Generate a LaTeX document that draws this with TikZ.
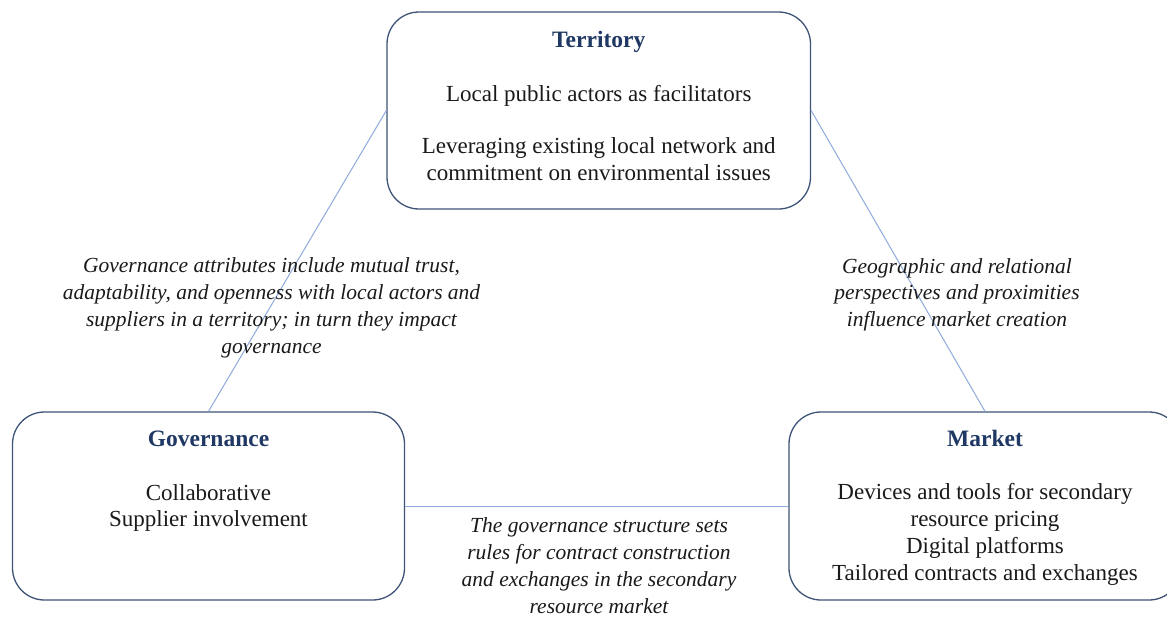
\documentclass[tikz,border=0pt]{standalone}
\usepackage{fontspec}
\setmainfont{Liberation Serif}
\definecolor{navy}{HTML}{1F3864}
\definecolor{boxline}{HTML}{3E5377}
\definecolor{linkc}{HTML}{8FAADC}
\definecolor{ink}{HTML}{1A1A1A}
\begin{document}
\begin{tikzpicture}[x=1pt,y=-1pt,
  panel/.style={draw=boxline,line width=1.3pt,rounded corners=32pt,fill=white,inner sep=0pt},
  title/.style={anchor=base,font=\fontsize{23.5}{27}\selectfont\bfseries,text=navy,inner sep=0pt},
  body/.style={anchor=base,align=center,font=\fontsize{23}{26.7}\selectfont,text=ink,inner sep=0pt},
  note/.style={anchor=base,align=center,font=\fontsize{21.5}{26.7}\selectfont\itshape,text=ink,inner sep=0pt},
  connector/.style={draw=linkc,line width=1pt}]
\clip (0,0) rectangle (1167,618);
\fill[white] (0,0) rectangle (1167,618);
% boxes
\node[panel,minimum width=423.5pt,minimum height=197pt] (terr) at (598.75,110.5) {};
\node[panel,minimum width=392pt,minimum height=188pt] (gov) at (208.5,506) {};
\node[panel,minimum width=392pt,minimum height=188pt] (mkt) at (985,506) {};
% connectors
\draw[connector] (terr.west) -- (gov.north);
\draw[connector] (terr.east) -- (mkt.north);
\draw[connector] (gov.east) -- (mkt.west);
% box texts (anchor = baseline of the last line)
\node[title] (terrtitle) at (598.75,48) {Territory};
\node[body] (terrA) at (598.75,101) {Local public actors as facilitators};
\node[body] (terrB) at (598.75,180) {Leveraging existing local network and\\commitment on environmental issues};
\node[title] (govtitle) at (208.5,446.7) {Governance};
\node[body] (govbody) at (208.5,526.7) {Collaborative\\Supplier involvement};
\node[title] (mkttitle) at (985,446.7) {Market};
\node[body] (mktbody) at (985,580) {Devices and tools for secondary\\resource pricing\\Digital platforms\\Tailored contracts and exchanges};
% connector labels
\node[note] (noteL) at (271.5,353) {Governance attributes include mutual trust,\\adaptability, and openness with local actors and\\suppliers in a territory; in turn they impact\\governance};
\node[note] (noteR) at (957,326.4) {Geographic and relational\\perspectives and proximities\\influence market creation};
\node[note] (noteB) at (599,613) {The governance structure sets\\rules for contract construction\\and exchanges in the secondary\\resource market};
\end{tikzpicture}
\end{document}
